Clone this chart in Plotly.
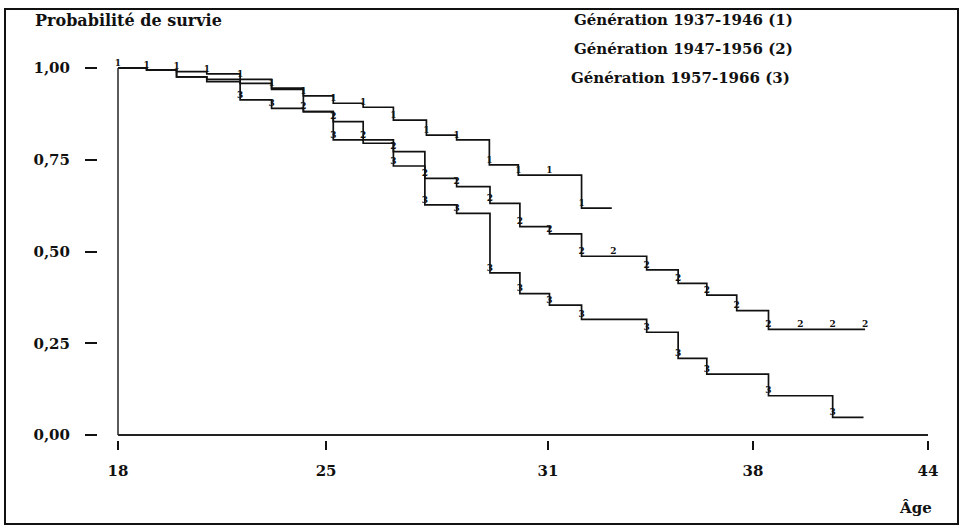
import plotly.graph_objects as go

# ---------------- data ----------------
ages_gen1 = [18, 18.92, 19.88, 20.85, 21.92, 22.93, 23.95, 24.91, 25.87, 26.84, 27.9, 28.87, 29.92, 30.85, 32.88, 33.85]
surv_gen1 = [1.0, 0.995, 0.990, 0.984, 0.969, 0.945, 0.924, 0.904, 0.893, 0.858, 0.817, 0.804, 0.736, 0.708, 0.618, 0.618]

ages_gen2 = [18, 18.92, 19.88, 20.85, 21.92, 22.93, 23.95, 24.91, 25.87, 26.84, 27.85, 28.87, 29.94, 30.9, 31.85, 32.88, 34.97, 35.98, 36.9, 37.86, 38.88, 41.98]
surv_gen2 = [1.0, 0.995, 0.976, 0.969, 0.958, 0.942, 0.881, 0.854, 0.804, 0.772, 0.699, 0.677, 0.631, 0.568, 0.548, 0.487, 0.450, 0.413, 0.381, 0.339, 0.288, 0.288]

ages_gen3 = [18, 18.92, 19.88, 20.85, 21.92, 22.93, 23.95, 24.91, 25.87, 26.84, 27.85, 28.87, 29.94, 30.9, 31.85, 32.88, 34.97, 35.98, 36.9, 38.88, 40.94, 41.93]
surv_gen3 = [1.0, 0.995, 0.976, 0.963, 0.913, 0.890, 0.881, 0.804, 0.795, 0.733, 0.627, 0.604, 0.442, 0.385, 0.354, 0.315, 0.280, 0.209, 0.166, 0.107, 0.048, 0.048]

# censored observations (marks on flat parts)
cens_age_gen1 = [31.85]
cens_surv_gen1 = [0.708]
cens_age_gen2 = [33.9, 39.9, 40.94, 41.98]
cens_surv_gen2 = [0.487, 0.288, 0.288, 0.288]
cens_age_gen3 = []
cens_surv_gen3 = []

series_names = ["Génération 1937-1946 (1)", "Génération 1947-1956 (2)", "Génération 1957-1966 (3)"]
series_symbols = ["1", "2", "3"]

y_tick_vals = [0.0, 0.25, 0.50, 0.75, 1.00]
y_tick_text = ["0,00", "0,25", "0,50", "0,75", "1,00"]
x_tick_vals = [18, 24.68, 31.8, 38.38, 44]
x_tick_text = ["18", "25", "31", "38", "44"]

y_title = "Probabilité de survie"
x_title = "Âge"

# ---------------- layout geometry ----------------
W, H = 964, 527
L, R, T, B = 98, 34, 55, 87
PW, PH = W - L - R, H - T - B


def px(x):
    return (x - L) / PW


def py(y):
    return (H - B - y) / PH


FONT = "DejaVu Serif"
INK = "#111111"

fig = go.Figure()

all_series = [
    (ages_gen1, surv_gen1, cens_age_gen1, cens_surv_gen1),
    (ages_gen2, surv_gen2, cens_age_gen2, cens_surv_gen2),
    (ages_gen3, surv_gen3, cens_age_gen3, cens_surv_gen3),
]

placed = []  # marks already drawn, to avoid stacking digits on the same corner
for (ages, surv, cages, csurv), name, sym in zip(all_series, series_names, series_symbols):
    fig.add_trace(go.Scatter(
        x=ages, y=surv, mode="lines", line=dict(shape="hv", color=INK, width=1.7),
        name=name, showlegend=False, hoverinfo="x+y",
    ))
    mx, my = [], []
    for a, s in zip(list(ages[:-1]) + list(cages), list(surv[:-1]) + list(csurv)):
        if any(abs(a - pa) < 0.5 and abs(s - ps) < 0.035 for pa, ps in placed):
            continue
        placed.append((a, s))
        mx.append(a)
        my.append(s)
    fig.add_trace(go.Scatter(
        x=mx, y=my, mode="text", text=[sym] * len(mx), textposition="top center",
        textfont=dict(family=FONT, size=9, color=INK, weight="bold"),
        showlegend=False, hoverinfo="skip", cliponaxis=False,
    ))

# axis lines (drawn separately from the ticks, as in the original)
fig.add_shape(type="line", xref="x", yref="y", x0=18, x1=18, y0=0, y1=1.0,
              line=dict(color="#333333", width=1.6))
fig.add_shape(type="line", xref="x", yref="y", x0=18, x1=44, y0=0, y1=0,
              line=dict(color="#222222", width=2))

# outer frame
fig.add_shape(type="rect", xref="paper", yref="paper",
              x0=px(5), x1=px(958), y0=py(524), y1=py(9),
              line=dict(color="#111111", width=2), fillcolor="rgba(0,0,0,0)")

annots = [
    dict(text=y_title, x=px(33), y=py(20), xanchor="left", yanchor="middle", size=16),
    dict(text=series_names[0], x=px(572), y=py(20), xanchor="left", yanchor="middle", size=15),
    dict(text=series_names[1], x=px(572), y=py(49), xanchor="left", yanchor="middle", size=15),
    dict(text=series_names[2], x=px(569), y=py(78), xanchor="left", yanchor="middle", size=15),
    dict(text=x_title, x=px(934), y=py(508), xanchor="right", yanchor="middle", size=15),
]
for a in annots:
    size = a.pop("size")
    fig.add_annotation(xref="paper", yref="paper", showarrow=False,
                       font=dict(family=FONT, size=size, color=INK, weight="bold"), **a)

x0 = 18 + (L - 118) / 31.154
x1 = 18 + (W - R - 118) / 31.154
y0 = (435 - (H - B)) / 367
y1 = (435 - T) / 367

fig.update_layout(
    width=W, height=H, autosize=False,
    margin=dict(l=L, r=R, t=T, b=B),
    paper_bgcolor="white", plot_bgcolor="white",
    showlegend=False,
    xaxis=dict(range=[x0, x1], showgrid=False, zeroline=False, showline=False,
               tickmode="array", tickvals=x_tick_vals, ticktext=x_tick_text,
               ticks="outside", ticklen=9, tickwidth=1.6, tickcolor=INK,
               ticklabelstandoff=8,
               tickfont=dict(family=FONT, size=15, color=INK, weight="bold")),
    yaxis=dict(range=[y0, y1], showgrid=False, zeroline=False, showline=False,
               tickmode="array", tickvals=y_tick_vals, ticktext=y_tick_text,
               ticks="outside", ticklen=12, tickwidth=1.6, tickcolor=INK,
               ticklabelstandoff=12,
               tickfont=dict(family=FONT, size=15, color=INK, weight="bold")),
)

fig.write_html("out.html", config={"displayModeBar": False},
               post_script="document.body.style.margin='0';")
